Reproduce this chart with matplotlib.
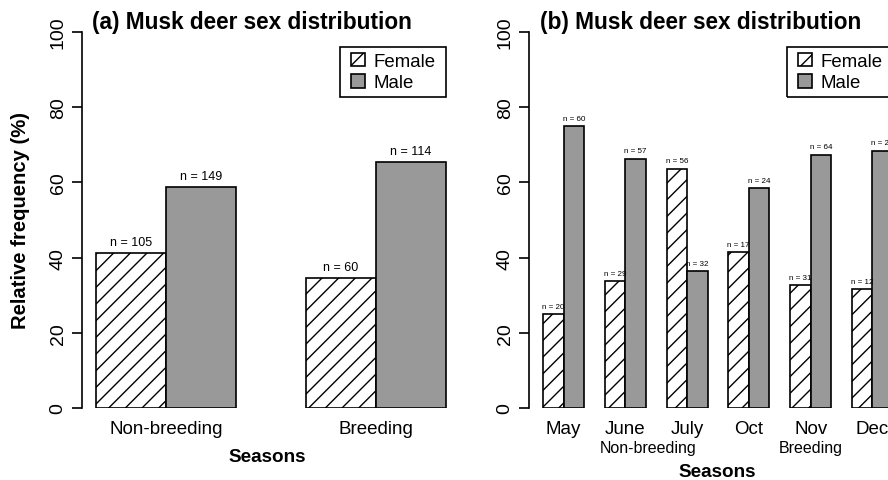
import numpy as np
import matplotlib
matplotlib.use("Agg")
import matplotlib.pyplot as plt
from matplotlib.patches import Rectangle
from matplotlib.transforms import offset_copy

plt.rcParams['font.family'] = ['Liberation Sans', 'DejaVu Sans']
plt.rcParams['hatch.linewidth'] = 1.0

# panel (a): by season
seasons = ["Non-breeding", "Breeding"]
female_a = [41.3, 34.5]
male_a = [58.7, 65.5]
n_female_a = [105, 60]
n_male_a = [149, 114]

# panel (b): by month
months = ["May", "June", "July", "Oct", "Nov", "Dec"]
female_b = [25.0, 33.7, 63.6, 41.5, 32.6, 31.6]
male_b = [75.0, 66.3, 36.4, 58.5, 67.4, 68.4]
n_female_b = [20, 29, 56, 17, 31, 12]
n_male_b = [60, 57, 32, 24, 64, 26]
season_groups = ["Non-breeding", "Breeding"]

GRAY = "#999999"
W, H = 888, 481


def px_axes(fig, left, right, top=33, bottom=409):
    return fig.add_axes([left / W, 1 - bottom / H, (right - left) / W, (bottom - top) / H])


def style_axis(ax, xlim):
    ax.set_xlim(*xlim)
    ax.set_ylim(0, 100)
    for s in ["top", "right", "bottom"]:
        ax.spines[s].set_visible(False)
    ax.spines["left"].set_linewidth(1.2)
    ax.set_yticks([0, 20, 40, 60, 80, 100])
    ax.tick_params(axis="y", length=7, width=1.2, labelsize=14, pad=4, labelrotation=90)
    for lab in ax.get_yticklabels():
        lab.set_va("center")
    ax.tick_params(axis="x", length=0, labelsize=13.5, pad=9)
    ax.patch.set_visible(False)


def draw_bars(ax, female, male, nf, nm, off, fs):
    k = np.arange(len(female))
    xf = 1 + 3 * k
    xm = 2 + 3 * k
    ax.bar(xf, female, width=1, align="edge", color="white", edgecolor="black",
           hatch="//", linewidth=1.2, label="Female")
    ax.bar(xm, male, width=1, align="edge", color=GRAY, edgecolor="black",
           linewidth=1.2, label="Male")
    for x, v, n in zip(xf, female, nf):
        ax.text(x + 0.5, v + off, f"n = {n}", ha="center", va="center", fontsize=fs)
    for x, v, n in zip(xm, male, nm):
        ax.text(x + 0.5, v + off, f"n = {n}", ha="center", va="center", fontsize=fs)
    return xm[-1] + 1


def add_legend(fig, ax, xr):
    # legend without frame, shifted in by the extra side padding; frame drawn after
    pad = 5
    tr = offset_copy(ax.transData, fig=fig, x=-pad, y=0, units="dots")
    leg = ax.legend(loc="upper right", bbox_to_anchor=(xr, 96.0),
                    bbox_transform=tr, borderaxespad=0, fontsize=13.4,
                    handlelength=0.75, handleheight=0.75, handletextpad=0.45,
                    borderpad=0.3, labelspacing=0.22, frameon=False)
    leg.set_clip_on(False)
    fig.canvas.draw()
    bb = leg.get_window_extent()
    fig.patches.append(Rectangle((bb.x0 - pad, bb.y0), bb.width + 2 * pad, bb.height,
                                 transform=None, fill=False, edgecolor="black",
                                 linewidth=1.2, zorder=5))
    return leg


fig = plt.figure(figsize=(W / 100, H / 100), dpi=100)

# (a)
ax1 = px_axes(fig, 82, 460)
style_axis(ax1, (0.8, 6.2))
xr1 = draw_bars(ax1, female_a, male_a, n_female_a, n_male_a, 2.9, 9)
ax1.set_xticks([2, 5])
ax1.set_xticklabels(seasons)
ax1.set_ylabel("Relative frequency (%)", fontsize=14.6, fontweight="bold", labelpad=14)
fig.text(92 / W, 1 - 23 / H, "(a) Musk deer sex distribution",
         fontsize=16.3, fontweight="bold", ha="left", va="center")
fig.text(267 / W, 1 - 458 / H, "Seasons", fontsize=13.6, fontweight="bold", ha="center", va="center")

# (b)
ax2 = px_axes(fig, 529, 907)
style_axis(ax2, (0.32, 18.68))
xr2 = draw_bars(ax2, female_b, male_b, n_female_b, n_male_b, 2.1, 5.8)
ax2.set_xticks(2 + 3 * np.arange(len(months)))
ax2.set_xticklabels(months)
for lab, x in zip(season_groups, [6.1, 14.0]):
    ax2.text(x, -10.6, lab, ha="center", va="center", fontsize=11.5)
fig.text(540 / W, 1 - 23 / H, "(b) Musk deer sex distribution",
         fontsize=16.3, fontweight="bold", ha="left", va="center")
fig.text(717 / W, 1 - 473 / H, "Seasons", fontsize=13.6, fontweight="bold", ha="center", va="center")

add_legend(fig, ax1, xr1)
add_legend(fig, ax2, xr2)

fig.savefig("out.png", dpi=100)
